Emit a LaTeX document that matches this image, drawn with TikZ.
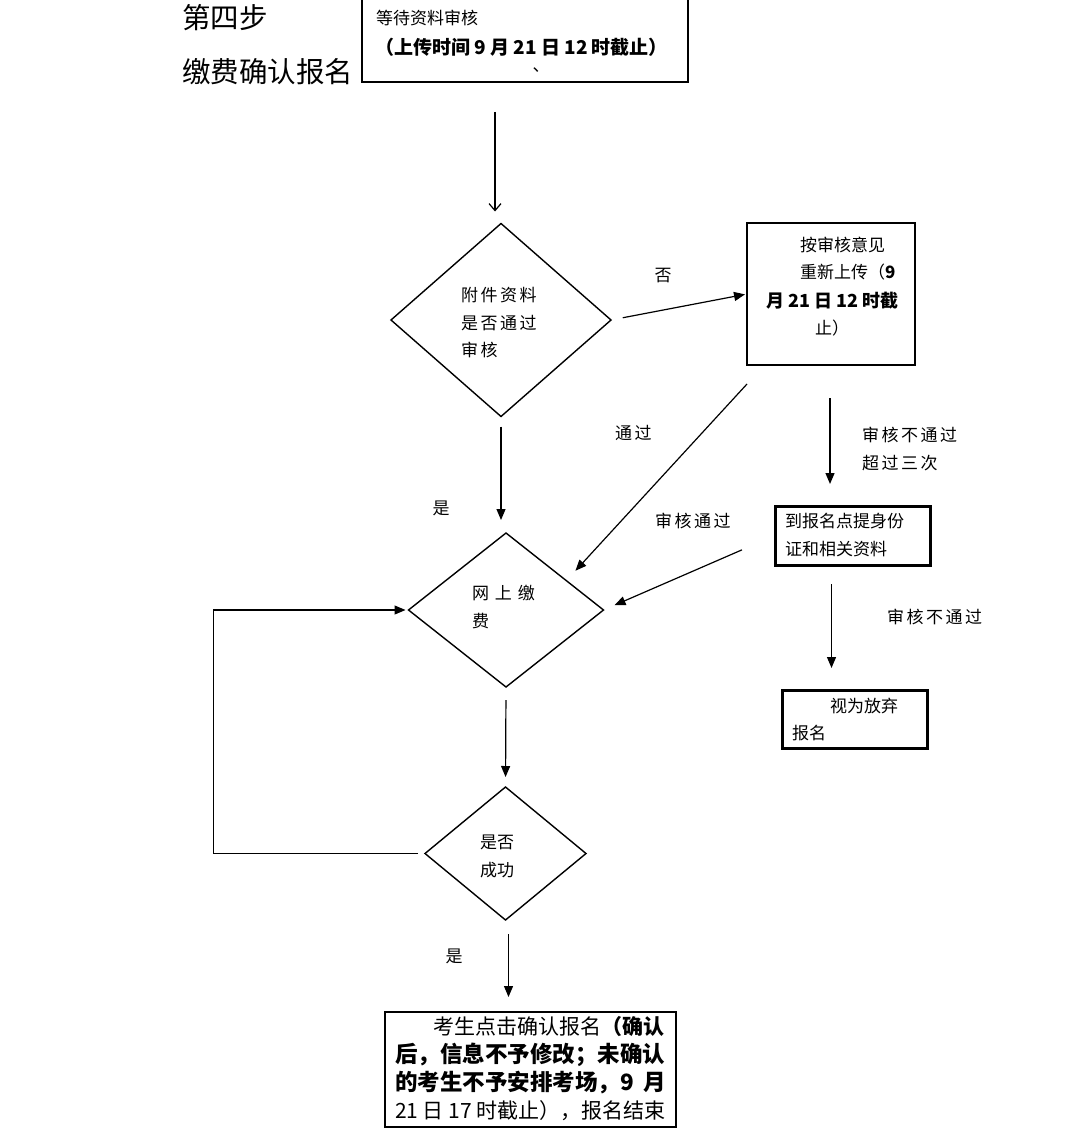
\documentclass[tikz,border=0pt]{standalone}
\usepackage{fontspec}
\setmainfont{Noto Sans CJK SC}
\usetikzlibrary{shapes.geometric,arrows.meta}
\begin{document}
\begin{tikzpicture}[x=1pt,y=-1pt,
  every node/.style={inner sep=0pt,outer sep=0pt,font=\fontsize{17}{20}\selectfont},
  box/.style={draw,line width=1.4pt,rectangle},
  heavybox/.style={draw,line width=3pt,rectangle},
  choice/.style={draw,line width=1.4pt,diamond},
  flow/.style={line width=1.2pt,-{Triangle[length=11pt,width=9pt]}},
  words/.style={anchor=west},
  spaced/.style={anchor=west,font=\fontsize{17}{20}\selectfont\addfontfeatures{LetterSpace=15}},
  big/.style={anchor=west,font=\fontsize{28.5}{30}\selectfont},
  last/.style={anchor=west,font=\fontsize{22.5}{24}\selectfont}]
\useasboundingbox (0,0) rectangle (1073,1134);
\fill[white] (0,0) rectangle (1073,1134);
\node[big] (step) at (182,18) {第四步};
\node[big] (title) at (182,72) {缴费确认报名};
\node[box,minimum width=326pt,minimum height=92pt] (wait) at (525,36) {};
\node[words] (waitA) at (376,18) {等待资料审核};
\node[words,font=\fontsize{19}{20}\selectfont] (waitB) at (375,47) {\textbf{（上传时间 9 月 21 日 12 时截止）}};
\node (dot) at (541,70) {、};
\node[choice,minimum width=220pt,minimum height=193pt] (check) at (501,320) {};
\node[spaced] (checkA) at (461,295) {附件资料};
\node[spaced] (checkB) at (461,323) {是否通过};
\node[spaced] (checkC) at (461,350) {审核};
\node[box,minimum width=168pt,minimum height=142pt] (redo) at (831,294) {};
\node[words] (redoA) at (800,245) {按审核意见};
\node[words] (redoB) at (800,272) {重新上传（\textbf{9}};
\node[words,font=\fontsize{18}{20}\selectfont] (redoC) at (766,301) {\textbf{月 21 日 12 时截}};
\node[words] (redoD) at (815,328) {止）};
\node[heavybox,minimum width=155pt,minimum height=59pt] (visit) at (852.5,535.5) {};
\node[words] (visitA) at (785,521) {到报名点提身份};
\node[words] (visitB) at (785,549) {证和相关资料};
\node[heavybox,minimum width=145pt,minimum height=58pt] (quit) at (854.5,719) {};
\node[words] (quitA) at (830,706) {视为放弃};
\node[words] (quitB) at (792,733) {报名};
\node[choice,minimum width=195pt,minimum height=154pt] (pay) at (506,610) {};
\node[words] (payA) at (472,593) {网\hspace{6pt}上\hspace{6pt}缴};
\node[words] (payB) at (472,621) {费};
\node[choice,minimum width=161pt,minimum height=133pt] (ok) at (505.5,853.5) {};
\node[words] (okA) at (480,842) {是否};
\node[words] (okB) at (480,870) {成功};
\node[draw,line width=2.5pt,minimum width=291pt,minimum height=115pt] (done) at (530.5,1069.5) {};
\node[last,font=\fontsize{21}{24}\selectfont] (doneA) at (433,1027) {考生点击确认报名\textbf{（确认}};
\node[last] (doneB) at (395,1055) {\textbf{后，信息不予修改；未确认}};
\node[last] (doneC) at (395,1083) {\textbf{的考生不予安排考场，9 \ 月}};
\node[last,font=\fontsize{21}{24}\selectfont] (doneD) at (395,1111) {21 日 17 时截止），报名结束};
\node (no) at (663,276) {否};
\node[spaced] (pass) at (615,433) {通过};
\node (yesA) at (441,508) {是};
\node[spaced] (failA) at (862,435) {审核不通过};
\node[spaced] (failB) at (862,463) {超过三次};
\node[spaced] (passB) at (655,521) {审核通过};
\node[spaced] (failC) at (887,617) {审核不通过};
\node (yesB) at (454,956) {是};
\draw[line width=1.2pt,-{Straight Barb[length=7pt,width=12pt]},shorten <=30pt,shorten >=12pt] ([xshift=-6pt]wait.south -| check.north) -- ([xshift=-6pt]check.north);
\draw[flow,shorten <=12pt,shorten >=2pt] (check.east) -- (redo.west);
\draw[flow,shorten >=1pt] ([yshift=-19pt]redo.south west) -- ([xshift=20pt]pay.north east);
\draw[flow,shorten <=33pt,shorten >=22pt] ([xshift=-1pt]redo.south) -- ([xshift=-1pt]redo.south |- visit.north);
\draw[flow,shorten <=36pt,shorten >=12pt] (visit.west) -- (pay.east);
\draw[flow,shorten <=19pt,shorten >=22pt] ([xshift=-21pt]visit.south) -- ([xshift=-21pt]visit.south |- quit.north);
\draw[flow,shorten <=10pt,shorten >=13pt] (check.south) -- (check.south |- pay.north);
\draw[flow,shorten <=13pt,shorten >=10pt] (pay.south) -- (ok.north);
\draw[flow,shorten <=7pt,shorten >=3pt] (ok.west) -| ([xshift=-195pt]pay.west) -- (pay.west);
\draw[flow,shorten <=14pt,shorten >=15pt] ([xshift=3pt]ok.south) -- ([xshift=3pt]ok.south |- done.north);
\end{tikzpicture}
\end{document}
